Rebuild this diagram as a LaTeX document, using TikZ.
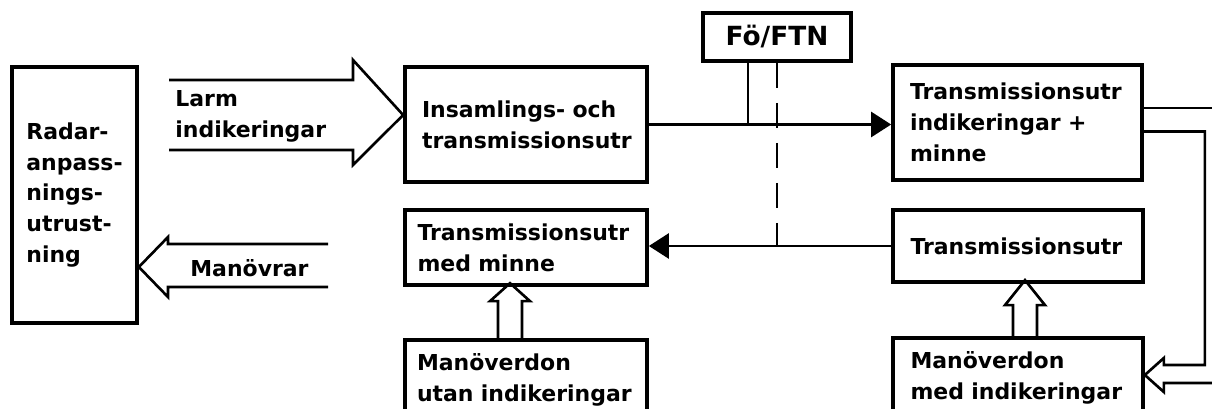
\documentclass[tikz,border=0pt]{standalone}
\usepackage{fontspec}
\setmainfont{DejaVu Sans}
\usetikzlibrary{arrows.meta, positioning}

\begin{document}
\begin{tikzpicture}[x=0.2mm, y=-0.2mm,
  txt/.style={font=\fontsize{12.5}{17.5}\selectfont\bfseries},
  box/.style={txt, draw, line width=2.1pt, align=left, inner ysep=0pt},
  line/.style={line width=1.5pt},
  hollow/.style={line width=1.5pt, line join=miter},
  tip/.style={-{Triangle[length=4mm, width=5mm]}}]

\clip (0,0) rectangle (1212,409);

% blocks
\node (radar)[box, minimum width=25mm, minimum height=51.2mm] at (74.5,195) {Radar-\\anpass-\\nings-\\utrust-\\ning};
\node (ins)[box, text width=41.6mm, inner xsep=3.4mm, minimum height=23mm] at (526,124.5) {Insamlings- och\\transmissionsutr};
\node (fo)[box, align=center, minimum width=29.6mm, minimum height=9.6mm, font=\fontsize{15}{18}\selectfont\bfseries] at (777,37) {Fö/FTN};
\node (tim)[box, text width=43mm, inner xsep=3.4mm, minimum height=23mm] at (1017.5,122.5) {Transmissionsutr\\indikeringar +\\minne};
\node (tmm)[box, text width=43.4mm, inner xsep=2.5mm, minimum height=15mm] at (526,247.5) {Transmissionsutr\\med minne};
\node (tr)[box, text width=43mm, inner xsep=3.5mm, minimum height=14.4mm] at (1018,246) {Transmissionsutr};
\node (mu)[box, text width=43.6mm, inner xsep=2.4mm, minimum height=16mm] at (526,380) {Manöverdon\\utan indikeringar};
\node (mi)[box, text width=43mm, inner xsep=3.5mm, minimum height=16mm] at (1018,378) {Manöverdon\\med indikeringar};

% labels on the big arrows
\node (larm)[txt, anchor=west, align=left, inner sep=0pt] at (175,116) {Larm\\indikeringar};
\node (manov)[txt, anchor=west, inner sep=0pt] at (190,268) {Manövrar};

% big hollow arrows
\coordinate (ltip) at ([yshift=1.9mm]ins.west);
\draw[hollow] (169,80) -- (353,80) -- (353,60) -- (ltip) -- (353,165) -- (353,150) -- (169,150);
\coordinate (rtip) at (radar.east |- 0,267);
\draw[hollow] (328,244) -- (168,244) -- (168,237) -- (rtip) -- (168,297) -- (168,287) -- (328,287);

\draw[hollow] (mu.north) ++(-28,0) -- ++(0,-37) -- ++(-8,0) -- ++(20,-18) -- ++(20,18) -- ++(-8,0) -- ++(0,37);
\draw[hollow] (mi.north) ++(-5,0) -- ++(0,-31) -- ++(-8,0) -- ++(20,-25) -- ++(20,25) -- ++(-8,0) -- ++(0,31);

% signal lines
\draw[line, tip] (ins.east) -- (ins.east -| tim.west);
\draw[line] ([xshift=-5.8mm]fo.south) -- ([xshift=-5.8mm]fo.south |- ins.east);
\draw[line, dash pattern=on 5mm off 3mm] (fo.south) -- (fo.south |- tr.west);
\draw[line, tip] (tr.west) -- (tr.west -| tmm.east);

\draw[line] ([yshift=2.9mm]tim.east) -- ++(80,0);
\coordinate (mtip) at ([yshift=0.6mm]mi.east);
\draw[hollow] ([yshift=-1.8mm]tim.east) -| ([xshift=12mm,yshift=2mm]mtip) -- ++(-41,0) -- ++(0,-7) -- (mtip) -- ++(19,17) -- ++(0,-9) -- ++(60,0);

\end{tikzpicture}
\end{document}
